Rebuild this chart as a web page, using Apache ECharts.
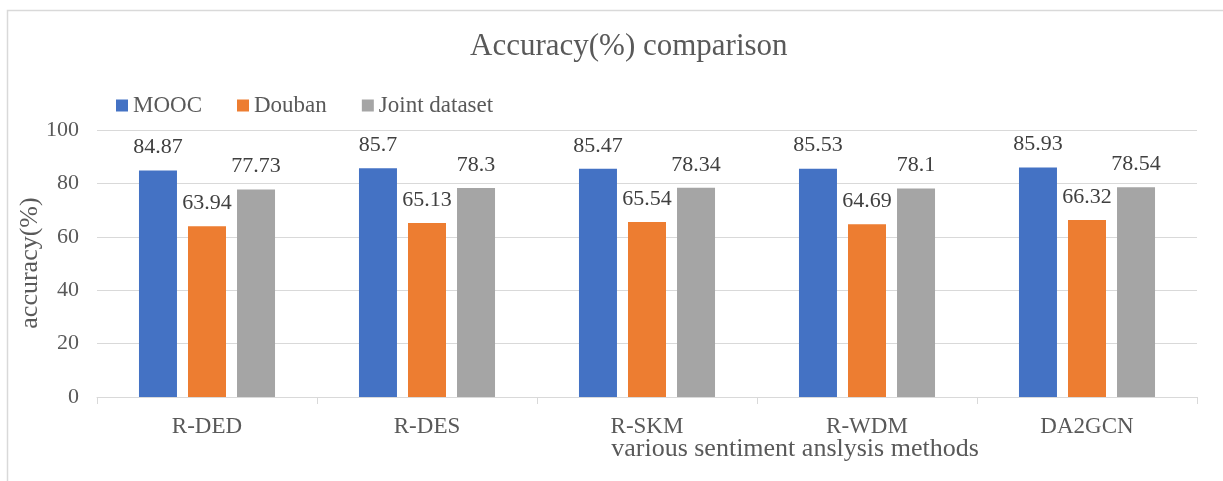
<!DOCTYPE html>
<html>
<head>
<meta charset="utf-8">
<script src="https://cdn.jsdelivr.net/npm/echarts@6/dist/echarts.min.js"></script>
<style>
  html, body { margin: 0; padding: 0; background: #fff; }
  #chart { width: 1223px; height: 481px; }
</style>
</head>
<body>
<div id="chart"></div>
<script>
const methods = ['R-DED', 'R-DES', 'R-SKM', 'R-WDM', 'DA2GCN'];
const mooc = [84.87, 85.7, 85.47, 85.53, 85.93];
const douban = [63.94, 65.13, 65.54, 64.69, 66.32];
const joint = [77.73, 78.3, 78.34, 78.1, 78.54];
const yTicks = [0, 20, 40, 60, 80, 100];

const serif = '"Liberation Serif", "DejaVu Serif", serif';
const textColor = '#595959';

const chart = echarts.init(document.getElementById('chart'));

function barSeries(name, data, color) {
  return {
    name: name,
    type: 'bar',
    data: data,
    barWidth: 38,
    barGap: '29%',
    itemStyle: { color: color },
    label: {
      show: true,
      position: 'top',
      distance: 12,
      fontFamily: serif,
      fontSize: 22,
      color: '#404040'
    }
  };
}

chart.setOption({
  animation: false,
  title: {
    text: 'Accuracy(%) comparison',
    left: 465,
    top: 26,
    textStyle: { fontFamily: serif, fontSize: 31, fontWeight: 'normal', color: textColor }
  },
  legend: {
    left: 111,
    top: 89,
    itemWidth: 12,
    itemHeight: 12,
    itemGap: 35,
    icon: 'rect',
    textStyle: { fontFamily: serif, fontSize: 23, color: textColor },
    data: ['MOOC', 'Douban', 'Joint dataset']
  },
  grid: { left: 97, right: 26, top: 130, bottom: 84 },
  xAxis: {
    type: 'category',
    data: methods,
    axisLine: { lineStyle: { color: '#d9d9d9', width: 1 } },
    axisTick: { show: true, length: 7, lineStyle: { color: '#d9d9d9' } },
    axisLabel: { fontFamily: serif, fontSize: 23, color: textColor, margin: 18 }
  },
  yAxis: {
    type: 'value',
    min: yTicks[0],
    max: yTicks[yTicks.length - 1],
    interval: 20,
    axisLine: { show: false },
    axisTick: { show: false },
    splitLine: { lineStyle: { color: '#d9d9d9', width: 1 } },
    axisLabel: { fontFamily: serif, fontSize: 22, color: textColor, margin: 18 }
  },
  graphic: [
    {
      type: 'rect',
      shape: { x: 7.5, y: 10.5, width: 1300, height: 600 },
      style: { fill: 'none', stroke: '#d9d9d9', lineWidth: 1.5 },
      silent: true
    },
    {
      // y-axis title
      type: 'text',
      x: 30,
      y: 263,
      rotation: Math.PI / 2,
      style: {
        text: 'accuracy(%)',
        fontFamily: serif,
        fontSize: 26,
        fill: textColor,
        align: 'center',
        verticalAlign: 'middle'
      }
    },
    {
      // x-axis title
      type: 'text',
      x: 795,
      y: 449,
      style: {
        text: 'various sentiment anslysis methods',
        fontFamily: serif,
        fontSize: 26,
        fill: textColor,
        align: 'center',
        verticalAlign: 'middle'
      }
    }
  ],
  series: [
    barSeries('MOOC', mooc, '#4472C4'),
    barSeries('Douban', douban, '#ED7D31'),
    barSeries('Joint dataset', joint, '#A5A5A5')
  ]
});
</script>
</body>
</html>
